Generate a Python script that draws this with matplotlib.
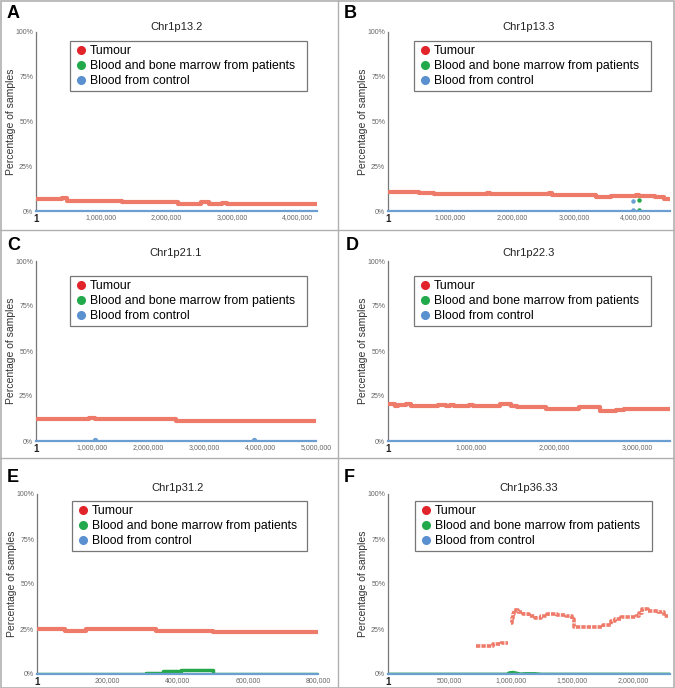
import matplotlib
matplotlib.use("Agg")
import matplotlib.pyplot as plt
from matplotlib.lines import Line2D
import numpy as np

plt.rcParams['font.family'] = ['Liberation Sans', 'DejaVu Sans']

# ---- data (x in bp, y in % of samples) ----
titles = ["Chr1p13.2", "Chr1p13.3", "Chr1p21.1", "Chr1p22.3", "Chr1p31.2", "Chr1p36.33"]
letters = ["A", "B", "C", "D", "E", "F"]
xmax = [4300000, 4550000, 5000000, 3400000, 800000, 2300000]
xticks = [
    [1, 1000000, 2000000, 3000000, 4000000],
    [1, 1000000, 2000000, 3000000, 4000000],
    [1, 1000000, 2000000, 3000000, 4000000, 5000000],
    [1, 1000000, 2000000, 3000000],
    [1, 200000, 400000, 600000, 800000],
    [1, 500000, 1000000, 1500000, 2000000],
]

# tumour: step breakpoints (Mb / kb) and the value held until the next breakpoint
tum_a_pos = [0, 0.40, 0.47, 1.32, 2.18, 2.52, 2.65, 2.85, 2.93, 4.3]
tum_a_val = [6.9, 7.2, 5.8, 5.0, 3.9, 4.8, 3.9, 4.6, 4.0]
tum_b_pos = [0, 0.5, 0.75, 1.45, 1.5, 1.6, 1.65, 2.6, 2.65, 3.35, 3.6, 4.0, 4.05, 4.3, 4.45, 4.55]
tum_b_val = [10.7, 10.1, 9.3, 9.7, 9.3, 9.8, 9.3, 9.8, 8.8, 7.7, 8.4, 9.0, 8.4, 7.8, 6.8]
tum_c_pos = [0, 0.95, 1.05, 2.5, 5.0]
tum_c_val = [12.0, 13.0, 12.0, 11.2]
tum_d_pos = [0, 0.08, 0.12, 0.22, 0.28, 0.6, 0.7, 0.75, 0.8, 0.98, 1.02, 1.35, 1.48, 1.55,
             1.6, 1.9, 2.3, 2.55, 2.75, 2.85, 3.4]
tum_d_val = [20.3, 19.3, 20.0, 20.6, 19.2, 20.0, 19.3, 20.0, 19.2, 19.9, 19.2, 20.3, 19.2,
             18.7, 19.0, 18.0, 18.7, 16.6, 17.5, 18.0]
tum_e_pos = [0, 80, 140, 340, 500, 800]  # kb
tum_e_val = [25.0, 23.9, 25.0, 24.1, 23.2]
tum_f1_pos = [0.72, 0.78, 0.86, 0.92, 0.98]
tum_f1_val = [15.4, 15.8, 16.4, 17.2]
tum_f2_pos = [1.0, 1.01, 1.02, 1.03, 1.06, 1.10, 1.15, 1.20, 1.25, 1.30, 1.38, 1.45, 1.50, 1.52,
              1.75, 1.82, 1.85, 1.90, 2.02, 2.05, 2.07, 2.12, 2.20, 2.25, 2.28]
tum_f2_val = [28.5, 31.0, 33.5, 35.6, 34.5, 33.6, 32.0, 31.0, 32.5, 33.6, 33.0, 32.0, 30.5,
              26.3, 27.0, 29.5, 30.5, 31.5, 32.2, 34.0, 36.0, 34.8, 34.2, 32.5]

# patients (green)
grn_b_x = [4.05, 4.05]
grn_b_y = [6.4, 0.8]
grn_e_pos = [0, 310, 360, 410, 490, 500, 800]  # kb
grn_e_val = [0, 0.5, 1.5, 2.2, 2.0, 0]
grn_f_x = [0.0, 0.97, 0.99, 1.02, 1.05, 1.08, 1.12, 1.2, 1.25, 2.3]
grn_f_y = [0, 0, 0.8, 1.0, 0.6, 0.1, 0.3, 0.3, 0, 0]

# control (blue)
blu_b_x = [3.95, 3.95]
blu_b_y = [5.4, 0.5]
blu_c_x = [1.05, 3.9]
blu_c_y = [0.5, 0.8]

red_line = "#ee7b6a"
grn = "#26a84a"
blu = "#6b9fd2"

# ---- layout (pixels of the 675x688 image) ----
W, H = 675, 688
boxes = [(36, 317, 32, 211), (388, 670, 32, 211),
         (36, 316, 261, 441), (388, 670, 261, 441),
         (37, 318, 494, 674), (388, 670, 494, 674)]
title_y = [27, 27, 253, 253, 488, 488]
leg_px = [(70, 307, 43), (414, 651, 43), (70, 307, 278),
          (414, 651, 278), (72, 307, 503), (415, 652, 503)]
letter_px = [(7, 14), (344, 14), (7, 246), (346, 246), (7, 478), (344, 478)]

fig = plt.figure(figsize=(W / 100, H / 100), dpi=100)

def steps(pos, val, scale):
    xs = np.array(pos, dtype=float) * scale
    ys = list(val) + [val[-1]]
    return xs, ys

def fmt(v):
    return "1" if v == 1 else f"{v:,}"

for i in range(6):
    l, r, t, b = boxes[i]
    ax = fig.add_axes([l / W, 1 - b / H, (r - l) / W, (b - t) / H])
    ax.set_xlim(0, xmax[i])
    ax.set_ylim(0, 100)

    if i == 0:
        x, y = steps(tum_a_pos, tum_a_val, 1e6)
    elif i == 1:
        x, y = steps(tum_b_pos, tum_b_val, 1e6)
    elif i == 2:
        x, y = steps(tum_c_pos, tum_c_val, 1e6)
    elif i == 3:
        x, y = steps(tum_d_pos, tum_d_val, 1e6)
    elif i == 4:
        x, y = steps(tum_e_pos, tum_e_val, 1e3)
    if i < 5:
        ax.step(x, y, where="post", color=red_line, lw=3, solid_capstyle="butt", zorder=3)
    else:
        x1, y1 = steps(tum_f1_pos, tum_f1_val, 1e6)
        x2, y2 = steps(tum_f2_pos, tum_f2_val, 1e6)
        ax.step(x1, y1, where="post", color=red_line, lw=2.6, ls=(0, (1.2, 0.3)), zorder=3)
        ax.step(x2, y2, where="post", color=red_line, lw=2.6, ls=(0, (1.2, 0.3)), zorder=3)

    # green
    if i == 1:
        ax.scatter(np.array(grn_b_x) * 1e6, grn_b_y, s=5, color=grn, zorder=4)
    if i == 4:
        gx, gy = steps(grn_e_pos, grn_e_val, 1e3)
        ax.step(gx, gy, where="post", color=grn, lw=2.5, zorder=2)
    if i == 5:
        ax.plot(np.array(grn_f_x) * 1e6, grn_f_y, color=grn, lw=2.0, zorder=2)

    # blue baseline
    ax.plot([0, xmax[i]], [0, 0], color=blu, lw=1.6, zorder=4, clip_on=False)
    if i == 1:
        ax.scatter(np.array(blu_b_x) * 1e6, blu_b_y, s=5, color=blu, zorder=4)
    if i == 2:
        ax.scatter(np.array(blu_c_x) * 1e6, blu_c_y, s=8, color=blu, zorder=4)

    for s in ["top", "right", "bottom"]:
        ax.spines[s].set_visible(False)
    ax.spines["left"].set_color("#777777")
    ax.spines["left"].set_linewidth(0.9)

    ax.set_yticks([0, 25, 50, 75, 100])
    ax.set_yticklabels(["0%", "25%", "50%", "75%", "100%"])
    ax.tick_params(axis="y", length=0, labelsize=5, labelcolor="#666666", pad=2)
    ax.set_xticks(xticks[i])
    ax.set_xticklabels([fmt(v) for v in xticks[i]])
    ax.tick_params(axis="x", length=0, labelsize=5, labelcolor="#666666", pad=2)
    first = ax.get_xticklabels()[0]
    first.set_fontsize(7)
    first.set_color("#222222")
    first.set_fontweight("bold")

    ax.set_ylabel("Percentage of samples", fontsize=7.5, color="#333333")
    ax.yaxis.set_label_coords(-0.07, 0.5)
    ax.text(0.5, (b - title_y[i]) / (b - t), titles[i], transform=ax.transAxes,
            ha="center", va="center", fontsize=8, color="#222222")

    lx0, lx1, ly = leg_px[i]
    handles = [Line2D([], [], marker="o", ls="", color=c, markersize=5.5)
               for c in ["#e0242a", "#22a94c", "#5a8fd0"]]
    labels = ["Tumour", "Blood and bone marrow from patients", "Blood from control"]
    leg = ax.legend(handles, labels, loc="upper left",
                    bbox_to_anchor=((lx0 - l) / (r - l), (b - ly) / (b - t),
                                    (lx1 - lx0) / (r - l), 0.01),
                    mode="expand", borderaxespad=0, fontsize=8.8, frameon=True,
                    fancybox=False, handletextpad=0.1, handlelength=1.2,
                    labelspacing=0.25, borderpad=0.3)
    leg.get_frame().set_edgecolor("#555555")
    leg.get_frame().set_linewidth(0.9)

    fig.text(letter_px[i][0] / W, 1 - letter_px[i][1] / H, letters[i],
             fontsize=13, fontweight="bold", va="center", ha="left")

# panel borders
bc = "#b0b0b0"
fig.add_artist(Line2D([338 / W, 338 / W], [0, 1], color=bc, lw=1))
fig.add_artist(Line2D([0, 1], [1 - 230 / H, 1 - 230 / H], color=bc, lw=1))
fig.add_artist(Line2D([0, 1], [1 - 458 / H, 1 - 458 / H], color=bc, lw=1))
fig.add_artist(plt.Rectangle((0.5 / W, 0.5 / H), 1 - 1.5 / W, 1 - 1.5 / H,
                             fill=False, ec=bc, lw=1.2, transform=fig.transFigure))

fig.savefig("out.png", dpi=100)
